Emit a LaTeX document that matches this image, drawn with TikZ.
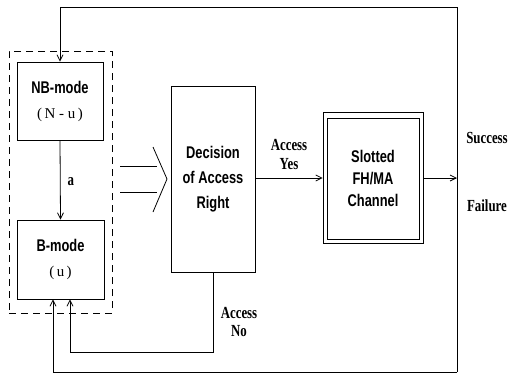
\documentclass[tikz,border=0pt]{standalone}
\usepackage{fontspec}
\setmainfont{Liberation Serif}
\newfontfamily\boxfont[FakeStretch=0.76]{Liberation Sans}
\newfontfamily\labfont[FakeStretch=0.76]{Liberation Serif}
\usetikzlibrary{arrows.meta}
\begin{document}
\begin{tikzpicture}[x=1bp,y=-1bp,
  line width=0.8bp,
  >={Straight Barb[length=6bp,width=6bp]},
  block/.style={draw, rectangle, inner sep=0pt, align=center,
    font=\boxfont\bfseries\fontsize{17}{25}\selectfont},
  lab/.style={inner sep=0pt, align=center,
    font=\labfont\bfseries\fontsize{17}{19}\selectfont}]
\useasboundingbox (0,0) rectangle (509,382);

% mode group
\node[draw, dash pattern=on 7bp off 5bp, rectangle, inner sep=0pt, minimum width=103bp, minimum height=262bp] (grp) at (60.5,182) {};
\node[block, minimum width=86bp, minimum height=78bp] (nb) at (60,101)
  {NB-mode\\{\rmfamily\mdseries\fontsize{15}{18}\selectfont (\,N - u\,)}};
\node[block, minimum width=87bp, minimum height=79bp] (bm) at (60.5,259.5)
  {B-mode\\{\rmfamily\mdseries\fontsize{15}{18}\selectfont (\,u\,)}};

% decision and channel
\node[block, minimum width=84bp, minimum height=186bp] (dec) at (213,179)
  {Decision\\of Access\\Right};
\node[draw, rectangle, inner sep=0pt, minimum width=100bp, minimum height=131bp] (chout) at (373,177.5) {};
\node[block, minimum width=92bp, minimum height=121bp, font=\boxfont\bfseries\fontsize{17}{22}\selectfont] (ch) at (373,178.5)
  {Slotted\\FH/MA\\Channel};

% feedback corners
\coordinate (tl) at (60,7);
\coordinate (tr) at (457,7);
\coordinate (br) at (457,372);
\coordinate (bl) at (53,372);
\coordinate (nl) at (70,352);
\coordinate (nr) at (213,352);
\coordinate (out) at (457,178);

% connectors
\draw[->] (nb.south) -- node[lab, right=7bp, pos=0.52] {a} (bm.north);
\draw[->] (dec.east |- 0,178) -- node[lab, above=8bp] {Access\\Yes} (chout.west |- 0,178);
\draw[->] (chout.east |- 0,178) -- (out);
\draw[->] (br) -- (tr) -- (tl) -- (nb.north);
\draw[->] (br) -- (bl) -- (bl |- bm.south);
\draw[->] (dec.south) -- (nr) -- (nl) -- (nl |- bm.south);

% wide input arrow into the decision block
\coordinate (ia) at (120,166);
\coordinate (ib) at (120,192);
\coordinate (ct) at (153,147);
\coordinate (cm) at (167,179);
\coordinate (cb) at (153,212);
\draw (ia) -- (157,166);
\draw (ib) -- (157,192);
\draw (ct) -- (cm) -- (cb);

% outcome labels
\node[lab] (acno) at (239,322) {Access\\No};
\node[lab] (succ) at (487,138) {Success};
\node[lab] (fail) at (487,206) {Failure};
\end{tikzpicture}
\end{document}
